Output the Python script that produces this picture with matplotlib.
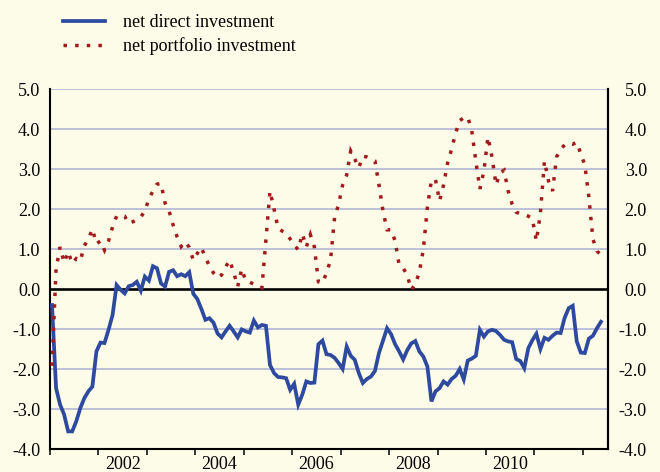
import matplotlib
matplotlib.use("Agg")
import matplotlib.pyplot as plt
import numpy as np
from matplotlib.ticker import FixedLocator, FixedFormatter, FuncFormatter, NullFormatter

plt.rcParams["font.family"] = ["Liberation Serif", "DejaVu Serif"]

# Monthly values, Jan 2001 - May 2012 (percent)
direct = [
    -0.40, -2.48, -2.89, -3.14, -3.56, -3.56, -3.31, -2.98, -2.73, -2.56, -2.44, -1.56,
    -1.34, -1.35, -1.02, -0.65, 0.10, -0.02, -0.11, 0.07, 0.10, 0.18, -0.04, 0.31,
    0.21, 0.57, 0.52, 0.14, 0.06, 0.43, 0.47, 0.32, 0.37, 0.32, 0.42, -0.12,
    -0.25, -0.50, -0.77, -0.73, -0.84, -1.11, -1.21, -1.06, -0.92, -1.06, -1.21, -1.01,
    -1.06, -1.09, -0.79, -0.96, -0.90, -0.92, -1.90, -2.10, -2.20, -2.21, -2.23, -2.52,
    -2.37, -2.89, -2.64, -2.31, -2.35, -2.34, -1.38, -1.29, -1.63, -1.65, -1.72, -1.85,
    -2.00, -1.44, -1.67, -1.77, -2.10, -2.35, -2.25, -2.19, -2.05, -1.60, -1.29, -0.98,
    -1.13, -1.38, -1.56, -1.76, -1.53, -1.36, -1.30, -1.56, -1.69, -1.94, -2.81, -2.56,
    -2.48, -2.31, -2.39, -2.25, -2.17, -2.00, -2.26, -1.79, -1.74, -1.67, -1.02, -1.19,
    -1.06, -1.02, -1.05, -1.15, -1.27, -1.31, -1.33, -1.75, -1.80, -1.98, -1.48, -1.28,
    -1.12, -1.50, -1.22, -1.27, -1.17, -1.09, -1.10, -0.72, -0.48, -0.42, -1.31, -1.59,
    -1.60, -1.24, -1.17, -0.98, -0.82,
]
portfolio = [
    -1.92, 0.50, 1.05, 0.66, 0.93, 0.64, 0.76, 0.70, 1.08, 1.25, 1.50, 1.13,
    1.20, 0.97, 1.20, 1.55, 1.82, 1.85, 1.82, 1.64, 1.68, 1.72, 1.80, 1.95,
    2.25, 2.45, 2.62, 2.64, 2.15, 1.95, 1.60, 1.30, 1.06, 1.18, 1.04, 0.72,
    0.89, 1.04, 0.78, 0.58, 0.40, 0.28, 0.35, 0.55, 0.72, 0.42, 0.06, 0.50,
    0.20, 0.17, 0.12, 0.07, 0.03, 1.24, 2.45, 2.00, 1.52, 1.45, 1.40, 1.25,
    1.10, 0.98, 1.38, 1.05, 1.36, 1.05, 0.18, 0.15, 0.40, 0.72, 1.78, 2.12,
    2.60, 2.85, 3.45, 3.25, 3.03, 3.32, 3.30, 3.25, 3.20, 2.60, 1.95, 1.48,
    1.48, 1.20, 0.60, 0.52, 0.35, -0.02, 0.12, 0.42, 1.00, 2.05, 2.72, 2.74,
    2.20, 2.60, 3.15, 3.50, 3.90, 4.21, 4.28, 4.30, 3.95, 3.20, 2.50, 2.95,
    3.80, 3.30, 2.60, 2.90, 2.97, 2.45, 2.12, 1.92, 1.88, 1.86, 1.82, 1.76,
    1.20, 1.90, 3.20, 2.70, 2.45, 3.30, 3.50, 3.60, 3.65, 3.62, 3.67, 3.38,
    3.10, 2.30, 1.25, 0.95, 0.85,
]
series_labels = ["net direct investment", "net portfolio investment"]
start_year = 2001
year_ticks = list(range(2001, 2013))
year_labels = ["2002", "2004", "2006", "2008", "2010"]
y_ticks = list(range(-4, 6))

# mid-month positions in decimal years
months = start_year + (np.arange(len(direct)) + 0.5) / 12

bg = "#fdfce8"
blue = "#2e4a9f"
red = "#a31a1d"
grid = "#aab0d6"

fig = plt.figure(figsize=(6.6, 4.72), dpi=100)
fig.patch.set_facecolor(bg)
ax = fig.add_axes([50 / 660, 1 - 449 / 472, 558 / 660, 360 / 472])
ax.set_facecolor(bg)

for v in y_ticks:
    if v != 0:
        ax.axhline(v, color=grid, lw=1.1, zorder=1)
ax.axhline(0, color="black", lw=1.9, zorder=2)

l1, = ax.plot(months, direct, color=blue, lw=2.7, solid_joinstyle="miter",
              zorder=3, label=series_labels[0])
l2, = ax.plot(months, portfolio, color=red, lw=2.5, linestyle=(0, (1, 2.35)),
              dash_joinstyle="miter", zorder=4, label=series_labels[1])

ax.set_xlim(2001, 2012.52)
ax.set_ylim(-4, 5)

for side in ("left", "right", "bottom"):
    ax.spines[side].set_color("black")
    ax.spines[side].set_linewidth(1.5)
ax.spines["top"].set_visible(False)

ax.xaxis.set_major_locator(FixedLocator(year_ticks))
ax.xaxis.set_major_formatter(NullFormatter())
ax.xaxis.set_minor_locator(FixedLocator([int(y) + 0.5 for y in year_labels]))
ax.xaxis.set_minor_formatter(FixedFormatter(year_labels))
ax.tick_params(axis="x", which="major", direction="out", length=4, width=1.1, color="black")
ax.tick_params(axis="x", which="minor", length=0, pad=5, labelsize=13)

fmt = FuncFormatter(lambda v, p: f"{v:.1f}")
ax.yaxis.set_major_locator(FixedLocator(y_ticks))
ax.yaxis.set_major_formatter(fmt)
ax.tick_params(axis="y", length=0, pad=7, labelsize=13)

ax2 = ax.twinx()
ax2.set_ylim(-4, 5)
ax2.yaxis.set_major_locator(FixedLocator(y_ticks))
ax2.yaxis.set_major_formatter(fmt)
ax2.tick_params(axis="y", length=0, pad=28, labelsize=13)
for lab in ax2.get_yticklabels():
    lab.set_horizontalalignment("right")
for side in ("left", "top", "bottom"):
    ax2.spines[side].set_visible(False)
ax2.spines["right"].set_color("black")
ax2.spines["right"].set_linewidth(1.5)

fig.legend(handles=[l1, l2], loc="upper left", bbox_to_anchor=(63 / 660, 1 - 14 / 472),
           frameon=False, fontsize=13, handlelength=2.35, handletextpad=1.0,
           labelspacing=0.35, borderpad=0, borderaxespad=0)

fig.savefig("out.png", dpi=100, facecolor=bg)
